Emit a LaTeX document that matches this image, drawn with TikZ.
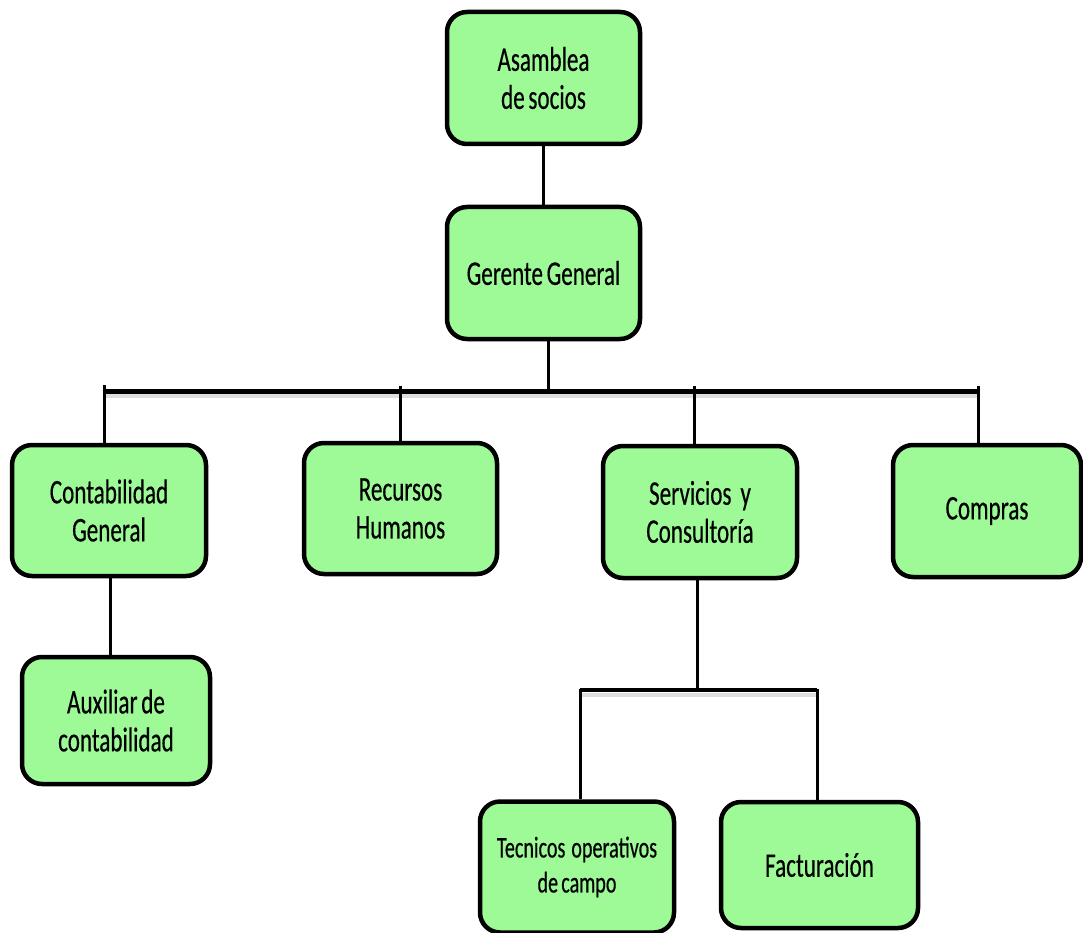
\documentclass[tikz,border=0pt]{standalone}
\usepackage{fontspec}
\setmainfont{Carlito}[FakeStretch=0.67, WordSpace=0.7, FakeBold=0.4]
\usetikzlibrary{calc}
\definecolor{boxgreen}{RGB}{157,250,150}
\definecolor{rulegray}{RGB}{200,200,200}
\tikzset{
  unit/.style={draw=black, line width=4.5pt, fill=boxgreen, rounded corners=20pt,
    align=center, inner sep=0pt, font=\fontsize{34.5}{38}\selectfont},
  link/.style={line width=3pt, black},
  bus/.style={line width=5pt, black},
  busshade/.style={line width=4pt, rulegray, opacity=0.6},
}
\begin{document}
\begin{tikzpicture}[x=1pt, y=-1pt]
\useasboundingbox (0,0) rectangle (1083,933);

% boxes (path size = outer size minus line width)
\node[unit, minimum width=193pt, minimum height=132pt] (asam) at (543.5,78) {Asamblea\\de socios};
\node[unit, minimum width=193pt, minimum height=132pt] (ger) at (543.5,273) {Gerente General};
\node[unit, minimum width=194pt, minimum height=131pt] (cont) at (109,510.5) {Contabilidad\\General};
\node[unit, minimum width=193pt, minimum height=131pt] (rrhh) at (400.5,508.5) {Recursos\\Humanos};
\node[unit, minimum width=194pt, minimum height=132pt] (serv) at (700,512) {Servicios\hspace{9pt}y\\Consultoría};
\node[unit, minimum width=188pt, minimum height=132pt] (comp) at (987,511) {Compras};
\node[unit, minimum width=188pt, minimum height=127pt] (aux) at (116,720.5) {Auxiliar de\\contabilidad};
\node[unit, minimum width=194pt, minimum height=131pt, font=\fontsize{30}{35}\selectfont] (tec) at (577,867) {Tecnicos\hspace{6pt}operativos\\de campo};
\node[unit, minimum width=197pt, minimum height=126pt] (fac) at (819.5,865) {Facturación};

% main bus below the general manager
\coordinate (busL) at (104,391);
\coordinate (busR) at (979,391);
\coordinate (busG) at (548,391);
\coordinate (busRH) at (400,386);
\coordinate (busSV) at (694,386);
\coordinate (busCP) at (978,386);

\draw[busshade] ($(busL)+(0,5)$) -- ($(busR)+(0,5)$);
\draw[bus] (busL) -- (busR);

\draw[link] (asam.south) -- (ger.north);
\draw[link] (busG |- ger.south) -- (busG);
\draw[link] ($(busL)+(0,-6)$) -- (busL |- cont.north);
\draw[link] (busRH) -- (busRH |- rrhh.north);
\draw[link] (busSV) -- (busSV |- serv.north);
\draw[link] (busCP) -- (busCP |- comp.north);

% accounting branch
\coordinate (ctx) at (110,0);
\draw[link] (ctx |- cont.south) -- (ctx |- aux.north);

% services branch
\coordinate (subL) at (580,690);
\coordinate (subR) at (817,690);
\coordinate (subM) at (697,690);
\draw[busshade] ($(subL)+(0,5)$) -- ($(subR)+(0,5)$);
\draw[link] (subM |- serv.south) -- (subM);
\draw[line width=4pt] (subL) -- (subR);
\draw[link] ($(subL)+(0,-1.5)$) -- (subL |- tec.north);
\draw[link] ($(subR)+(0,-1.5)$) -- (subR |- fac.north);
\end{tikzpicture}
\end{document}
